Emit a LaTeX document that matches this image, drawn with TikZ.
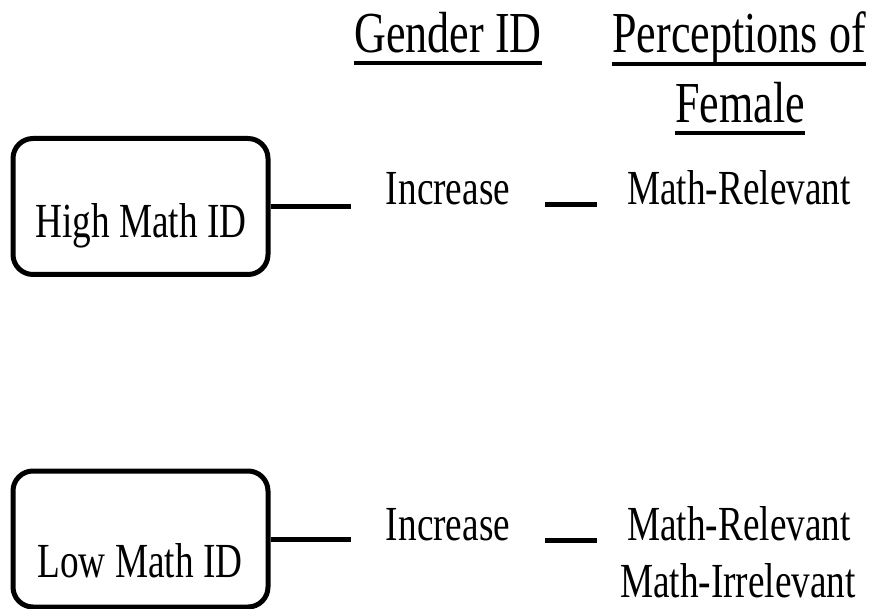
\documentclass[tikz,border=0pt]{standalone}
\usepackage{fontspec}
\setmainfont{Liberation Serif}[FakeStretch=0.76]
\begin{document}
\begin{tikzpicture}[x=1pt,y=-1pt,
  txt/.style={inner sep=0pt, anchor=base, font=\fontsize{49}{57}\selectfont},
  hdr/.style={inner sep=0pt, anchor=base, font=\fontsize{58}{66}\selectfont},
  idbox/.style={draw, line width=5pt, rounded corners=20pt, minimum width=255pt, minimum height=136pt, inner sep=0pt},
  conn/.style={line width=5pt},
  uline/.style={line width=4pt}]
\useasboundingbox (0,0) rectangle (875,609);
% headers
\node[hdr] (g) at (448,53) {Gender ID};
\node[hdr] (p1) at (739,53) {Perceptions of};
\node[hdr] (p2) at (740,123) {Female};
\draw[uline] ([yshift=-10pt]g.base west) -- ([yshift=-10pt]g.base east);
\draw[uline] ([yshift=-11pt]p1.base west) -- ([yshift=-11pt]p1.base east);
\draw[uline] ([yshift=-10pt]p2.base west) -- ([yshift=-10pt]p2.base east);
% top row
\node[idbox] (b1) at (140.5,206.5) {};
\node[txt] (t1) at (141,238) {High Math ID};
\coordinate (c1) at (351,206.5);
\draw[conn] (b1.east) -- (c1);
\node[txt] (i1) at (448,205) {Increase};
\coordinate (d1a) at (545,205);
\coordinate (d1b) at (597,205);
\draw[conn] (d1a) -- (d1b);
\node[txt] (r1) at (739,205) {Math-Relevant};
% bottom row
\node[idbox] (b2) at (140.5,539) {};
\node[txt] (t2) at (140,577) {Low Math ID};
\coordinate (c2) at (351,539);
\draw[conn] (b2.east) -- (c2);
\node[txt] (i2) at (448,540) {Increase};
\coordinate (d2a) at (545,540);
\coordinate (d2b) at (597,540);
\draw[conn] (d2a) -- (d2b);
\node[txt] (r2) at (739,540) {Math-Relevant};
\node[txt] (r3) at (738,597) {Math-Irrelevant};
\end{tikzpicture}
\end{document}
